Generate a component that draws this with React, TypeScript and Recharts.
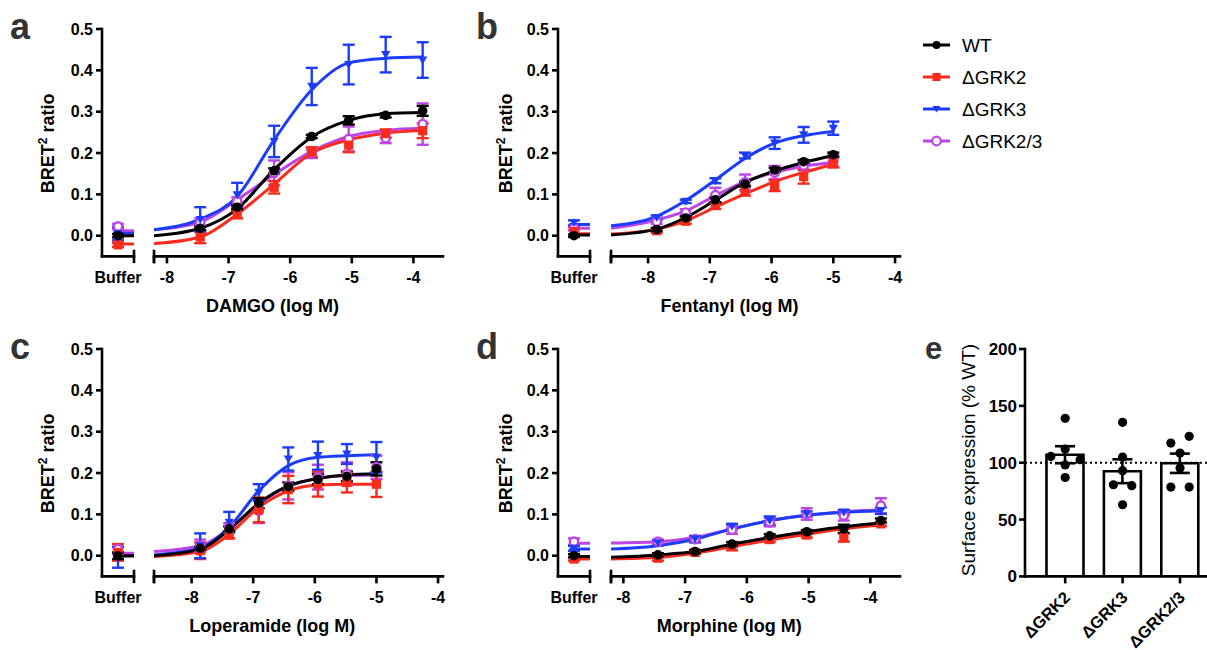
import React from 'react'
import {
  ComposedChart,
  Line,
  Scatter,
  ErrorBar,
  XAxis,
  YAxis,
  Bar,
  ReferenceLine,
} from 'recharts'

const FONT = "'Liberation Sans', Arial, Helvetica, sans-serif"

const SERIES = ['WT', 'ΔGRK2', 'ΔGRK3', 'ΔGRK2/3']
const COLORS = ['#000000', '#fb2b1b', '#1c3cfc', '#bd45e6']
const Y_TICKS = [0, 0.1, 0.2, 0.3, 0.4, 0.5]
const LOG_TICKS = [-8, -7, -6, -5, -4]

// a: DAMGO
const DAMGO_X = [-7.46, -6.86, -6.26, -5.65, -5.05, -4.45, -3.85]
const DAMGO_MEAN = [
  [0.018, 0.069, 0.157, 0.24, 0.279, 0.291, 0.302],
  [-0.003, 0.052, 0.117, 0.202, 0.219, 0.247, 0.254],
  [0.039, 0.099, 0.228, 0.361, 0.414, 0.438, 0.425],
  [0.032, 0.083, 0.152, 0.198, 0.234, 0.236, 0.27],
]
const DAMGO_SEM = [
  [0.004, 0.005, 0.006, 0.004, 0.01, 0.005, 0.012],
  [0.015, 0.01, 0.015, 0.012, 0.017, 0.01, 0.018],
  [0.03, 0.029, 0.038, 0.045, 0.048, 0.043, 0.043],
  [0.01, 0.01, 0.03, 0.01, 0.03, 0.012, 0.05],
]
const DAMGO_BUF = [0.0, -0.022, 0.005, 0.0225]
const DAMGO_BUF_SEM = [0.004, 0.005, 0.016, 0.006]
const DAMGO_FIT_X = [-8.21, -7.46, -6.86, -6.26, -5.65, -5.05, -4.45, -3.85]
const DAMGO_FIT = [
  [0.0, 0.018, 0.065, 0.16, 0.239, 0.279, 0.295, 0.298],
  [-0.019, -0.003, 0.052, 0.125, 0.2, 0.232, 0.248, 0.255],
  [0.0145, 0.04, 0.095, 0.232, 0.353, 0.418, 0.429, 0.432],
  [0.0145, 0.033, 0.087, 0.148, 0.204, 0.24, 0.255, 0.26],
]
const DAMGO_FIT_BUF = [0.0, -0.02, 0.006, 0.012]

// b: Fentanyl
const FENT_X = [-7.86, -7.39, -6.91, -6.43, -5.95, -5.48, -5.0]
const FENT_MEAN = [
  [0.015, 0.043, 0.087, 0.125, 0.159, 0.179, 0.196],
  [0.012, 0.035, 0.073, 0.109, 0.121, 0.143, 0.177],
  [0.044, 0.083, 0.133, 0.194, 0.224, 0.244, 0.26],
  [0.034, 0.056, 0.098, 0.129, 0.153, 0.17, 0.181],
]
const FENT_SEM = [
  [0.004, 0.004, 0.006, 0.006, 0.005, 0.004, 0.005],
  [0.005, 0.006, 0.008, 0.012, 0.013, 0.017, 0.012],
  [0.005, 0.004, 0.006, 0.007, 0.014, 0.019, 0.016],
  [0.005, 0.008, 0.018, 0.019, 0.016, 0.012, 0.014],
]
const FENT_BUF = [0.0, 0.01, 0.031, 0.018]
const FENT_BUF_SEM = [0.003, 0.012, 0.006, 0.005]
const FENT_FIT_X = [-8.6, -7.86, -7.39, -6.91, -6.43, -5.95, -5.48, -5.0]
const FENT_FIT = [
  [0.002, 0.016, 0.044, 0.086, 0.129, 0.157, 0.177, 0.194],
  [0.004, 0.016, 0.036, 0.069, 0.101, 0.131, 0.153, 0.173],
  [0.024, 0.047, 0.085, 0.135, 0.187, 0.224, 0.242, 0.252],
  [0.018, 0.038, 0.06, 0.097, 0.131, 0.153, 0.168, 0.177],
]
const FENT_FIT_BUF = [0.002, 0.005, 0.027, 0.018]

// c: Loperamide
const LOP_X = [-7.86, -7.39, -6.91, -6.43, -5.95, -5.48, -5.0]
const LOP_MEAN = [
  [0.018, 0.065, 0.127, 0.167, 0.185, 0.192, 0.21],
  [0.012, 0.05, 0.111, 0.16, 0.173, 0.177, 0.173],
  [0.024, 0.081, 0.153, 0.234, 0.242, 0.246, 0.238],
  [0.024, 0.069, 0.109, 0.169, 0.19, 0.198, 0.214],
]
const LOP_SEM = [
  [0.004, 0.006, 0.012, 0.01, 0.012, 0.012, 0.016],
  [0.02, 0.008, 0.03, 0.033, 0.03, 0.024, 0.031],
  [0.03, 0.025, 0.02, 0.028, 0.034, 0.024, 0.037],
  [0.015, 0.01, 0.03, 0.033, 0.03, 0.028, 0.028],
]
const LOP_BUF = [0.0, 0.008, -0.004, 0.016]
const LOP_BUF_SEM = [0.008, 0.02, 0.025, 0.012]
const LOP_FIT_X = [-8.61, -7.86, -7.39, -6.91, -6.43, -5.95, -5.48, -5.0]
const LOP_FIT = [
  [0.0, 0.016, 0.063, 0.127, 0.169, 0.187, 0.195, 0.198],
  [-0.002, 0.01, 0.052, 0.117, 0.157, 0.171, 0.173, 0.173],
  [0.002, 0.018, 0.069, 0.157, 0.218, 0.238, 0.242, 0.244],
  [0.01, 0.024, 0.065, 0.125, 0.168, 0.187, 0.194, 0.195],
]
const LOP_FIT_BUF = [0.0, 0.0, 0.0, 0.006]

// d: Morphine
const MOR_X = [-7.44, -6.84, -6.24, -5.63, -5.03, -4.43, -3.83]
const MOR_MEAN = [
  [0.002, 0.01, 0.028, 0.048, 0.058, 0.065, 0.085],
  [-0.006, 0.008, 0.023, 0.039, 0.05, 0.044, 0.077],
  [0.031, 0.04, 0.071, 0.085, 0.101, 0.105, 0.109],
  [0.034, 0.04, 0.063, 0.081, 0.101, 0.097, 0.121],
]
const MOR_SEM = [
  [0.004, 0.004, 0.005, 0.004, 0.004, 0.01, 0.005],
  [0.006, 0.004, 0.01, 0.006, 0.006, 0.01, 0.005],
  [0.006, 0.008, 0.006, 0.01, 0.006, 0.006, 0.008],
  [0.005, 0.006, 0.01, 0.01, 0.014, 0.012, 0.018],
]
const MOR_BUF = [0.0, -0.008, 0.018, 0.034]
const MOR_BUF_SEM = [0.004, 0.004, 0.006, 0.008]
const MOR_FIT_X = [-8.2, -7.44, -6.84, -6.24, -5.63, -5.03, -4.43, -3.83]
const MOR_FIT = [
  [-0.004, 0.002, 0.01, 0.028, 0.044, 0.058, 0.07, 0.079],
  [-0.008, -0.004, 0.006, 0.022, 0.038, 0.052, 0.065, 0.074],
  [0.016, 0.024, 0.04, 0.065, 0.085, 0.098, 0.105, 0.109],
  [0.031, 0.034, 0.044, 0.065, 0.085, 0.098, 0.106, 0.111],
]
const MOR_FIT_BUF = [-0.002, -0.008, 0.016, 0.03]

// e: surface expression
const E_GROUPS = ['ΔGRK2', 'ΔGRK3', 'ΔGRK2/3']
const E_MEAN = [107, 92.5, 99.5]
const E_SEM = [7.5, 10.5, 8.5]
const E_POINTS = [
  [139, 112, 105.5, 102.6, 98, 87],
  [135.5, 105, 93, 80.6, 79.8, 63],
  [117.3, 123.2, 108.5, 95.3, 78.6, 78.6],
]
const E_TICKS = [0, 50, 100, 150, 200]

// beeswarm slot of each dot (category units)
const E_JITTER = [
  [0, 0, -0.25, 0.26, 0, 0],
  [0, 0, 0, -0.16, 0.16, 0],
  [-0.16, 0.16, 0, 0, -0.16, 0.16],
]

// layout
const BUF_W = 32
const MAIN_W = 289
const PLOT_H = 227.4
const Y_AXIS_W = 70
const X_AXIS_H = 50
const MT = 10
const TICK_SIZE = 7
const TICK_MARGIN = 8
const AXIS = { stroke: '#000', strokeWidth: 2.6, strokeLinecap: 'square' as const }
const TICK_LINE = { stroke: '#000', strokeWidth: 2.6 }
const ORDER = [3, 1, 2, 0]

function Marker({ cx, cy, kind }: { cx?: number; cy?: number; kind: number }) {
  if (cx == null || cy == null) return null
  const c = COLORS[kind]
  if (kind === 0) return <circle cx={cx} cy={cy} r={4.8} fill={c} />
  if (kind === 1) return <rect x={cx - 4.6} y={cy - 4.6} width={9.2} height={9.2} fill={c} />
  if (kind === 2)
    return <path d={`M${cx - 4.6},${cy - 3.6}L${cx + 4.6},${cy - 3.6}L${cx},${cy + 4.4}Z`} fill={c} />
  return <circle cx={cx} cy={cy} r={4.2} fill='#fff' stroke={c} strokeWidth={2.4} />
}

function BreakMark({ x, axisY }: { x: number; axisY: number }) {
  return <line x1={x} x2={x} y1={axisY - 6.7} y2={axisY + 6.7} stroke='#000' strokeWidth={2.6} />
}

function BufferTick(props: any) {
  const { x, y, payload } = props
  const axisY = y - TICK_SIZE - TICK_MARGIN
  if (payload.value === 1) return <BreakMark x={x} axisY={axisY} />
  return (
    <text x={x} y={y} dy='0.71em' textAnchor='middle' fontSize={16} fontWeight={700} fill='#000'>
      Buffer
    </text>
  )
}

function LogTick(props: any) {
  const { x, y, payload, breakAt } = props
  const axisY = y - TICK_SIZE - TICK_MARGIN
  if (payload.value === breakAt) return <BreakMark x={x} axisY={axisY} />
  return (
    <text x={x} y={y} dy='0.71em' textAnchor='middle' fontSize={16} fontWeight={700} fill='#000'>
      {String(payload.value)}
    </text>
  )
}

interface PanelProps {
  bufLeft: number
  mainLeft: number
  plotTop: number
  domain: [number, number]
  doses: number[]
  mean: number[][]
  sem: number[][]
  buf: number[]
  bufSem: number[]
  fitX: number[]
  fit: number[][]
  fitBuf: number[]
}

function DosePanel(p: PanelProps) {
  const h = PLOT_H + MT + X_AXIS_H
  const ticks = [p.domain[0], ...LOG_TICKS.filter((t) => t <= p.domain[1])]
  return (
    <>
      <div style={{ position: 'absolute', left: p.bufLeft - Y_AXIS_W, top: p.plotTop - MT }}>
        <ComposedChart
          width={Y_AXIS_W + BUF_W + 16}
          height={h}
          margin={{ top: MT, right: 16, bottom: 0, left: 0 }}
        >
          <XAxis
            type='number'
            dataKey='x'
            domain={[0, 1]}
            ticks={[0.5, 1]}
            interval={0}
            allowDataOverflow
            height={X_AXIS_H}
            axisLine={AXIS}
            tickLine={false}
            tickSize={TICK_SIZE}
            tickMargin={TICK_MARGIN}
            tick={(t: any) => <BufferTick {...t} />}
          />
          <YAxis
            type='number'
            dataKey='y'
            domain={[-0.05, 0.5]}
            ticks={Y_TICKS}
            interval={0}
            allowDataOverflow
            width={Y_AXIS_W}
            axisLine={AXIS}
            tickLine={TICK_LINE}
            tickSize={6}
            tickMargin={3}
            tick={{ fontSize: 16, fontWeight: 700, fill: '#000' }}
            tickFormatter={(v: number) => v.toFixed(1)}
          />
          {ORDER.map((i) => (
            <Line
              key={`bl${i}`}
              data={[
                { x: 0.35, y: p.fitBuf[i] },
                { x: 1, y: p.fitBuf[i] },
              ]}
              dataKey='y'
              stroke={COLORS[i]}
              strokeWidth={3}
              dot={false}
              isAnimationActive={false}
            />
          ))}
          {ORDER.map((i) => (
            <Scatter
              key={`bs${i}`}
              data={[{ x: 0.5, y: p.buf[i], e: p.bufSem[i] }]}
              shape={(s: any) => <Marker cx={s.cx} cy={s.cy} kind={i} />}
              isAnimationActive={false}
            >
              <ErrorBar dataKey='e' direction='y' width={6} stroke={COLORS[i]} strokeWidth={2.4} />
            </Scatter>
          ))}
        </ComposedChart>
      </div>
      <div style={{ position: 'absolute', left: p.mainLeft - 6, top: p.plotTop - MT }}>
        <ComposedChart
          width={6 + MAIN_W + 14}
          height={h}
          margin={{ top: MT, right: 14, bottom: 0, left: 6 }}
        >
          <XAxis
            type='number'
            dataKey='x'
            domain={p.domain}
            ticks={ticks}
            interval={0}
            allowDataOverflow
            height={X_AXIS_H}
            axisLine={AXIS}
            tickLine={TICK_LINE}
            tickSize={TICK_SIZE}
            tickMargin={TICK_MARGIN}
            tick={(t: any) => <LogTick {...t} breakAt={p.domain[0]} />}
          />
          <YAxis type='number' dataKey='y' domain={[-0.05, 0.5]} allowDataOverflow hide width={0} />
          {ORDER.map((i) => (
            <Line
              key={`fit${i}`}
              data={p.fitX.map((x, j) => ({ x, y: p.fit[i][j] }))}
              dataKey='y'
              type='monotone'
              stroke={COLORS[i]}
              strokeWidth={3}
              dot={false}
              isAnimationActive={false}
            />
          ))}
          {ORDER.map((i) => (
            <Scatter
              key={`pt${i}`}
              data={p.doses.map((x, j) => ({ x, y: p.mean[i][j], e: p.sem[i][j] }))}
              shape={(s: any) => <Marker cx={s.cx} cy={s.cy} kind={i} />}
              isAnimationActive={false}
            >
              <ErrorBar dataKey='e' direction='y' width={6} stroke={COLORS[i]} strokeWidth={2.4} />
            </Scatter>
          ))}
        </ComposedChart>
      </div>
    </>
  )
}

function GroupTick(props: any) {
  const { x, y, payload } = props
  const ax = x + 2
  const ay = y + 9
  return (
    <text
      x={ax}
      y={ay}
      dy='0.35em'
      textAnchor='end'
      fontSize={16.5}
      fontWeight={700}
      fill='#000'
      transform={`rotate(-45 ${ax} ${ay})`}
    >
      {E_GROUPS[payload.value]}
    </text>
  )
}

function SurfacePanel() {
  const bars = E_GROUPS.map((name, i) => ({ x: i, name, mean: E_MEAN[i], err: E_SEM[i] }))
  const dots = E_POINTS.flatMap((vals, i) =>
    vals.map((v, j) => ({ x: i + E_JITTER[i][j], y: v })),
  )
  const plotTop = 349.3
  const axisH = 73
  return (
    <div style={{ position: 'absolute', left: 1025 - 60, top: plotTop - MT }}>
      <ComposedChart
        width={60 + 182}
        height={PLOT_H + MT + axisH}
        data={bars}
        margin={{ top: MT, right: 0, bottom: 0, left: 0 }}
      >
        <XAxis
          type='number'
          dataKey='x'
          domain={[-0.7, 2.47]}
          ticks={[0, 1, 2]}
          interval={0}
          allowDataOverflow
          height={axisH}
          axisLine={AXIS}
          tickLine={TICK_LINE}
          tickSize={7}
          tickMargin={2}
          tick={(t: any) => <GroupTick {...t} />}
        />
        <XAxis xAxisId='dots' type='number' dataKey='x' domain={[-0.7, 2.47]} allowDataOverflow hide height={0} />
        <YAxis
          type='number'
          dataKey='y'
          domain={[0, 200]}
          ticks={E_TICKS}
          interval={0}
          allowDataOverflow
          width={60}
          axisLine={AXIS}
          tickLine={TICK_LINE}
          tickSize={6}
          tickMargin={2}
          tick={{ fontSize: 17, fontWeight: 700, fill: '#000' }}
        />
        <Bar
          dataKey='mean'
          barSize={37}
          fill='#fff'
          stroke='#000'
          strokeWidth={2.6}
          isAnimationActive={false}
        >
          <ErrorBar dataKey='err' direction='y' width={10} stroke='#000' strokeWidth={2.6} />
        </Bar>
        <ReferenceLine y={100} stroke='#000' strokeWidth={2} strokeDasharray='2 3' />
        <Scatter
          xAxisId='dots'
          data={dots}
          shape={(s: any) => <circle cx={s.cx} cy={s.cy} r={4.6} fill='#000' />}
          isAnimationActive={false}
        />
      </ComposedChart>
    </div>
  )
}

function LegendMarker({ kind, x, y }: { kind: number; x: number; y: number }) {
  const c = COLORS[kind]
  if (kind === 0) return <circle cx={x} cy={y} r={4} fill={c} />
  if (kind === 1) return <rect x={x - 4} y={y - 4} width={8} height={8} fill={c} />
  if (kind === 2) return <path d={`M${x - 4},${y - 3}L${x + 4},${y - 3}L${x},${y + 3.5}Z`} fill={c} />
  return <circle cx={x} cy={y} r={4.3} fill='#fff' stroke={c} strokeWidth={2.2} />
}

function BretLabel({ x, y }: { x: number; y: number }) {
  return (
    <text
      transform={`translate(${x},${y}) rotate(-90)`}
      textAnchor='middle'
      fontSize={18}
      fontWeight={700}
      fill='#000'
    >
      BRET
      <tspan dy={-7} fontSize={12}>
        2
      </tspan>
      <tspan dy={7}> ratio</tspan>
    </text>
  )
}

function Annotations() {
  const legendY = [45, 77, 109, 141]
  return (
    <svg
      width={1207}
      height={650}
      style={{ position: 'absolute', left: 0, top: 0, pointerEvents: 'none' }}
      fontFamily={FONT}
    >
      <g fontSize={36} fontWeight={700} fill='#333'>
        <text x={10} y={39}>a</text>
        <text x={476} y={38.5}>b</text>
        <text x={10} y={358.5}>c</text>
        <text x={476} y={358.5}>d</text>
      </g>
      <text x={925} y={358.5} fontSize={31} fontWeight={700} fill='#333'>
        e
      </text>
      <BretLabel x={53.5} y={143.3} />
      <BretLabel x={511.5} y={143.3} />
      <BretLabel x={53.5} y={463.3} />
      <BretLabel x={511.5} y={463.3} />
      <g fontSize={18} fontWeight={700} fill='#000' textAnchor='middle'>
        <text x={272.5} y={311.7}>DAMGO (log M)</text>
        <text x={729.5} y={311.7}>Fentanyl (log M)</text>
        <text x={272.2} y={631.7}>Loperamide (log M)</text>
        <text x={729.2} y={631.7}>Morphine (log M)</text>
      </g>
      <text
        transform='translate(975,460) rotate(-90)'
        textAnchor='middle'
        fontSize={19}
        fill='#000'
      >
        Surface expression (% WT)
      </text>
      {SERIES.map((name, i) => (
        <g key={name}>
          <line x1={923} x2={950} y1={legendY[i]} y2={legendY[i]} stroke={COLORS[i]} strokeWidth={3} />
          <LegendMarker kind={i} x={936.5} y={legendY[i]} />
          <text x={962} y={legendY[i] + 7} fontSize={19} fill='#000'>
            {name}
          </text>
        </g>
      ))}
    </svg>
  )
}

export default function App() {
  return (
    <div
      style={{
        position: 'absolute',
        left: 0,
        top: 0,
        width: 1207,
        height: 650,
        background: '#fff',
        fontFamily: FONT,
        overflow: 'hidden',
      }}
    >
      <style>{'.recharts-surface { overflow: visible; }'}</style>
      <DosePanel
        bufLeft={101.7}
        mainLeft={153.5}
        plotTop={29.3}
        domain={[-8.21, -3.52]}
        doses={DAMGO_X}
        mean={DAMGO_MEAN}
        sem={DAMGO_SEM}
        buf={DAMGO_BUF}
        bufSem={DAMGO_BUF_SEM}
        fitX={DAMGO_FIT_X}
        fit={DAMGO_FIT}
        fitBuf={DAMGO_FIT_BUF}
      />
      <DosePanel
        bufLeft={558.3}
        mainLeft={610.7}
        plotTop={29.3}
        domain={[-8.6, -3.92]}
        doses={FENT_X}
        mean={FENT_MEAN}
        sem={FENT_SEM}
        buf={FENT_BUF}
        bufSem={FENT_BUF_SEM}
        fitX={FENT_FIT_X}
        fit={FENT_FIT}
        fitBuf={FENT_FIT_BUF}
      />
      <DosePanel
        bufLeft={101.7}
        mainLeft={153.5}
        plotTop={349.3}
        domain={[-8.61, -3.92]}
        doses={LOP_X}
        mean={LOP_MEAN}
        sem={LOP_SEM}
        buf={LOP_BUF}
        bufSem={LOP_BUF_SEM}
        fitX={LOP_FIT_X}
        fit={LOP_FIT}
        fitBuf={LOP_FIT_BUF}
      />
      <DosePanel
        bufLeft={558.3}
        mainLeft={610.7}
        plotTop={349.3}
        domain={[-8.2, -3.52]}
        doses={MOR_X}
        mean={MOR_MEAN}
        sem={MOR_SEM}
        buf={MOR_BUF}
        bufSem={MOR_BUF_SEM}
        fitX={MOR_FIT_X}
        fit={MOR_FIT}
        fitBuf={MOR_FIT_BUF}
      />
      <SurfacePanel />
      <Annotations />
    </div>
  )
}
